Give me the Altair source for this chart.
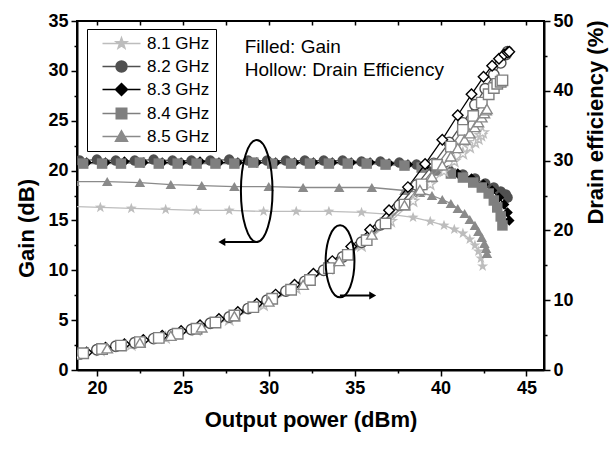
import altair as alt
import pandas as pd

FONT = "Liberation Sans"

FREQS = ["8.1 GHz", "8.2 GHz", "8.3 GHz", "8.4 GHz", "8.5 GHz"]
COLORS = ["#bdbdbd", "#505050", "#000000", "#7f7f7f", "#8a8a8a"]

# Output power (dBm), gain (dB) and drain efficiency (%) for each frequency
pout_81 = [18.4, 20.2, 22.0, 24.0, 25.8, 27.7, 29.7, 31.6, 33.5, 35.4, 37.1, 38.4, 39.4, 40.2, 40.8,
           41.3, 41.7, 42.0, 42.2, 42.35, 42.45]
gain_81 = [16.4, 16.3, 16.2, 16.1, 16.0, 16.0, 15.9, 15.9, 15.9, 15.8, 15.6, 15.3, 14.9, 14.5, 14.1,
           13.7, 13.1, 12.5, 11.9, 11.2, 10.4]
eff_81 = [2.0, 2.8, 3.6, 4.6, 5.7, 7.2, 9.3, 11.7, 14.5, 17.8, 21.3, 24.2, 26.6, 28.5, 29.9,
          31.0, 31.9, 32.6, 33.1, 33.6, 34.0]

pout_82 = [19.0, 20.0, 21.1, 22.2, 23.3, 24.4, 25.5, 26.6, 27.7, 28.8, 29.9, 31.0, 32.1, 33.2, 34.3,
           35.4, 36.5, 37.6, 38.6, 39.6, 40.5, 41.3, 42.0, 42.6, 43.1, 43.5, 43.8, 43.9]
gain_82 = [21.0, 21.1, 21.0, 21.0, 21.1, 21.0, 21.0, 21.0, 21.1, 21.0, 21.0, 21.0, 21.0, 21.0, 21.0,
           20.9, 20.9, 20.8, 20.6, 20.3, 20.0, 19.6, 19.2, 18.7, 18.3, 17.9, 17.6, 17.3]
eff_82 = [2.3, 2.9, 3.4, 3.9, 4.5, 5.1, 5.8, 6.7, 7.6, 8.8, 10.0, 11.3, 12.7, 14.3, 16.2,
          18.3, 20.8, 23.6, 26.5, 29.6, 32.6, 35.4, 38.0, 40.3, 42.3, 44.0, 45.2, 45.6]

pout_83 = [19.4, 20.5, 21.6, 22.7, 23.8, 24.9, 26.0, 27.1, 28.2, 29.3, 30.4, 31.5, 32.6, 33.7, 34.8,
           35.9, 37.0, 38.1, 39.1, 40.1, 41.0, 41.8, 42.5, 43.0, 43.4, 43.7, 43.9, 44.0]
gain_83 = [20.8, 20.8, 20.9, 20.8, 20.8, 20.8, 20.9, 20.8, 20.8, 20.8, 20.8, 20.8, 20.8, 20.8, 20.8,
           20.8, 20.7, 20.6, 20.4, 20.1, 19.7, 19.2, 18.6, 18.0, 17.3, 16.6, 15.8, 15.0]
eff_83 = [2.5, 3.2, 3.7, 4.3, 4.9, 5.6, 6.4, 7.3, 8.3, 9.5, 10.8, 12.2, 13.8, 15.6, 17.7,
          20.1, 22.9, 26.2, 29.5, 33.0, 36.5, 39.5, 42.0, 43.6, 44.6, 45.2, 45.5, 45.6]

pout_84 = [19.2, 20.3, 21.4, 22.5, 23.6, 24.7, 25.8, 26.9, 28.0, 29.1, 30.2, 31.3, 32.4, 33.5, 34.6,
           35.7, 36.8, 37.9, 38.9, 39.8, 40.6, 41.3, 41.9, 42.4, 42.8, 43.1, 43.3, 43.5, 43.6]
gain_84 = [20.7, 20.7, 20.7, 20.8, 20.7, 20.7, 20.7, 20.7, 20.7, 20.8, 20.7, 20.7, 20.7, 20.7, 20.7,
           20.7, 20.6, 20.5, 20.3, 20.0, 19.7, 19.3, 18.8, 18.3, 17.7, 17.0, 16.3, 15.4, 14.5]
eff_84 = [2.4, 3.0, 3.5, 4.0, 4.6, 5.2, 5.9, 6.8, 7.8, 9.0, 10.2, 11.5, 12.9, 14.6, 16.5,
          18.6, 21.0, 23.7, 26.6, 29.4, 32.0, 34.4, 36.4, 38.3, 39.5, 40.4, 41.0, 41.3, 41.5]

pout_85 = [18.7, 20.6, 22.5, 24.3, 26.1, 28.0, 30.0, 32.0, 34.1, 36.0, 37.9, 38.8, 39.5, 40.1, 40.6,
           41.0, 41.4, 41.7, 42.0, 42.2, 42.4, 42.55, 42.65, 42.7]
gain_85 = [18.9, 18.9, 18.8, 18.6, 18.5, 18.4, 18.4, 18.3, 18.3, 18.3, 18.0, 17.8, 17.5, 17.1, 16.7,
           16.2, 15.7, 15.1, 14.5, 13.9, 13.3, 12.7, 12.2, 11.7]
eff_85 = [2.2, 3.1, 3.9, 4.9, 6.1, 7.7, 9.8, 12.2, 15.6, 19.4, 23.6, 25.8, 27.7, 29.3, 30.6,
          31.8, 33.0, 33.9, 34.8, 35.5, 36.2, 36.8, 37.2, 37.4]

SERIES = [
    (FREQS[0], pout_81, gain_81, eff_81),
    (FREQS[1], pout_82, gain_82, eff_82),
    (FREQS[2], pout_83, gain_83, eff_83),
    (FREQS[3], pout_84, gain_84, eff_84),
    (FREQS[4], pout_85, gain_85, eff_85),
]

rows = []
for freq, pout, gain, eff in SERIES:
    for p, g, e in zip(pout, gain, eff):
        rows.append({"freq": freq, "pout": p, "gain": g, "eff": e})
df = pd.DataFrame(rows)

# Annotation texts and the two "which axis" callouts (ellipse + arrow)
notes = pd.DataFrame({
    "text": ["Filled: Gain", "Hollow: Drain Efficiency"],
    "x": [28.6, 28.6],
    "gain": [32.4, 30.1],
})
rings = pd.DataFrame({"k": [0, 1], "x": [29.3, 34.15], "gain": [17.95, 10.9]})
arrows = pd.DataFrame({
    "x_from": [29.37, 34.14],
    "x_to": [27.27, 36.05],
    "gain": [12.84, 7.47],
    "dir": ["left", "right"],
})

# Marker symbols (star drawn as a custom path)
STAR = ("M0,-1.1L0.26,-0.36L1.05,-0.34L0.42,0.14L0.65,0.89L0,0.44L-0.65,0.89"
        "L-0.42,0.14L-1.05,-0.34L-0.26,-0.36Z")
MARKERS = [STAR, "circle", "diamond", "square", "triangle-up"]

# Legend symbols: a short line with the marker in its middle
LINE = "M0.2,0L7.8,0"
LEGEND_SHAPES = [
    LINE + "M4,-1.15L4.27,-0.38L5.1,-0.36L4.44,0.15L4.68,0.93L4,0.46L3.32,0.93"
           "L3.56,0.15L2.9,-0.36L3.73,-0.38Z",
    LINE + "M5.1,0A1.1,1.1,0,1,1,2.9,0A1.1,1.1,0,1,1,5.1,0Z",
    LINE + "M4,-1.2L5.2,0L4,1.2L2.8,0Z",
    LINE + "M2.95,-1.05L5.05,-1.05L5.05,1.05L2.95,1.05Z",
    LINE + "M4,-1.15L5.2,0.95L2.8,0.95Z",
]

ELLIPSE_A = "M0,-1A0.31,1,0,1,1,0,1A0.31,1,0,1,1,0,-1Z"
ELLIPSE_B = "M0,-1A0.40,1,0,1,1,0,1A0.40,1,0,1,1,0,-1Z"

W, H = 467, 349
MARK_SIZE = 110

xscale = alt.Scale(domain=[18.84, 46.02], nice=False, zero=False)
gscale = alt.Scale(domain=[0, 35], nice=False)
escale = alt.Scale(domain=[0, 50], nice=False)
cscale = alt.Scale(domain=FREQS, range=COLORS)

axis_style = dict(
    grid=False,
    domainColor="black",
    domainWidth=2,
    tickColor="black",
    tickWidth=1.5,
    labelFont=FONT,
    labelFontSize=18,
    labelFontWeight="bold",
    labelColor="black",
    titleFont=FONT,
    titleFontSize=22,
    titleFontWeight="bold",
    titleColor="black",
)

x_axis = alt.Axis(
    title="Output power (dBm)",
    values=[20 + 2.5 * i for i in range(11)],
    labelExpr="datum.value % 5 === 0 ? datum.label : ''",
    tickSize={"condition": {"test": "datum.value % 5 === 0", "value": 6}, "value": 3},
    labelPadding=3,
    titleY=49,
    titleBaseline="middle",
    **axis_style,
)
gain_axis = alt.Axis(
    title="Gain (dB)",
    orient="left",
    values=[2.5 * i for i in range(15)],
    labelExpr="datum.value % 5 === 0 ? datum.label : ''",
    tickSize={"condition": {"test": "datum.value % 5 === 0", "value": 6}, "value": 3},
    labelPadding=3,
    titleAngle=270,
    titleX=-51,
    titleY=207,
    titleAlign="center",
    titleBaseline="middle",
    **axis_style,
)
eff_axis = alt.Axis(
    title="Drain efficiency (%)",
    orient="right",
    values=[5 * i for i in range(11)],
    labelExpr="datum.value % 10 === 0 ? datum.label : ''",
    tickSize={"condition": {"test": "datum.value % 10 === 0", "value": 6}, "value": 3},
    labelPadding=3,
    titleAngle=270,
    titleX=51,
    titleY=101,
    titleAlign="center",
    titleBaseline="middle",
    **axis_style,
)
# Inward ticks along the top frame
top_axis = alt.Axis(
    orient="bottom",
    offset=-H,
    title=None,
    labels=False,
    domain=False,
    grid=False,
    values=[20 + 2.5 * i for i in range(11)],
    tickSize=4,
    tickColor="black",
    tickWidth=1.5,
)

base = alt.Chart(df)
color = alt.Color("freq:N", scale=cscale, legend=None)
marker = alt.Shape("freq:N", scale=alt.Scale(domain=FREQS, range=MARKERS), legend=None)

gain_lines = base.mark_line(strokeWidth=1.3, clip=True).encode(
    x=alt.X("pout:Q", scale=xscale, axis=x_axis),
    y=alt.Y("gain:Q", scale=gscale, axis=gain_axis),
    color=color,
)
gain_pts = base.mark_point(filled=True, size=MARK_SIZE, opacity=1, clip=True).encode(
    x=alt.X("pout:Q", scale=xscale, axis=None),
    y=alt.Y("gain:Q", scale=gscale, axis=None),
    color=color,
    shape=marker,
)
eff_lines = base.mark_line(strokeWidth=1.3, clip=True).encode(
    x=alt.X("pout:Q", scale=xscale, axis=None),
    y=alt.Y("eff:Q", scale=escale, axis=eff_axis),
    color=color,
)
eff_pts = base.mark_point(filled=False, fill="white", size=MARK_SIZE, opacity=1,
                          strokeWidth=1.4, clip=True).encode(
    x=alt.X("pout:Q", scale=xscale, axis=None),
    y=alt.Y("eff:Q", scale=escale, axis=None),
    color=color,
    shape=marker,
)

ring_a = alt.Chart(rings).transform_filter("datum.k == 0").mark_point(
    shape=ELLIPSE_A, size=10404, filled=False, stroke="black", strokeWidth=2, opacity=1
).encode(
    x=alt.X("x:Q", scale=xscale, axis=None),
    y=alt.Y("gain:Q", scale=gscale, axis=None),
)
ring_b = alt.Chart(rings).transform_filter("datum.k == 1").mark_point(
    shape=ELLIPSE_B, size=5184, filled=False, stroke="black", strokeWidth=2, opacity=1
).encode(
    x=alt.X("x:Q", scale=xscale, axis=None),
    y=alt.Y("gain:Q", scale=gscale, axis=None),
)
arrow_shafts = alt.Chart(arrows).mark_rule(color="black", strokeWidth=2).encode(
    x=alt.X("x_from:Q", scale=xscale, axis=None),
    x2="x_to:Q",
    y=alt.Y("gain:Q", scale=gscale, axis=None),
)
arrow_heads = alt.Chart(arrows).mark_point(filled=True, size=64, color="black", opacity=1).encode(
    x=alt.X("x_to:Q", scale=xscale, axis=None),
    y=alt.Y("gain:Q", scale=gscale, axis=None),
    shape=alt.Shape("dir:N", scale=alt.Scale(domain=["left", "right"],
                                             range=["triangle-left", "triangle-right"]),
                    legend=None),
)
note_text = alt.Chart(notes).mark_text(
    align="left", baseline="middle", font=FONT, fontSize=19, color="black"
).encode(
    x=alt.X("x:Q", scale=xscale, axis=None),
    y=alt.Y("gain:Q", scale=gscale, axis=None),
    text="text:N",
)

legend_cfg = alt.Legend(
    title=None,
    orient="none",
    legendX=10,
    legendY=8,
    padding=6,
    strokeColor="black",
    fillColor="white",
    labelFont=FONT,
    labelFontSize=17,
    labelColor="black",
    labelOffset=37,
    rowPadding=5,
    symbolSize=100,
    symbolStrokeWidth=1.5,
)
legend_layer = base.transform_filter("false").mark_point(
    filled=True, size=100, opacity=1, strokeWidth=1.5
).encode(
    fill=alt.Fill("freq:N", scale=alt.Scale(domain=FREQS, range=COLORS), legend=legend_cfg),
    stroke=alt.Stroke("freq:N", scale=alt.Scale(domain=FREQS, range=COLORS), legend=legend_cfg),
    shape=alt.Shape("freq:N", scale=alt.Scale(domain=FREQS, range=LEGEND_SHAPES), legend=legend_cfg),
)

top_ticks = alt.Chart(rings).mark_point(opacity=0).encode(
    x=alt.X("x:Q", scale=xscale, axis=top_axis),
)

chart = alt.layer(
    gain_lines, gain_pts, eff_lines, eff_pts,
    ring_a, ring_b, arrow_shafts, arrow_heads, note_text,
    legend_layer, top_ticks,
).resolve_scale(
    x="independent", y="independent", color="independent",
    shape="independent", fill="independent", stroke="independent",
).properties(
    width=W,
    height=H,
    padding={"left": 77, "top": 21, "right": 67, "bottom": 80},
    autosize=alt.AutoSizeParams(type="none"),
    background="white",
).configure_view(stroke="black", strokeWidth=2)

chart.save("out.html", embed_options={"renderer": "svg", "actions": False})
